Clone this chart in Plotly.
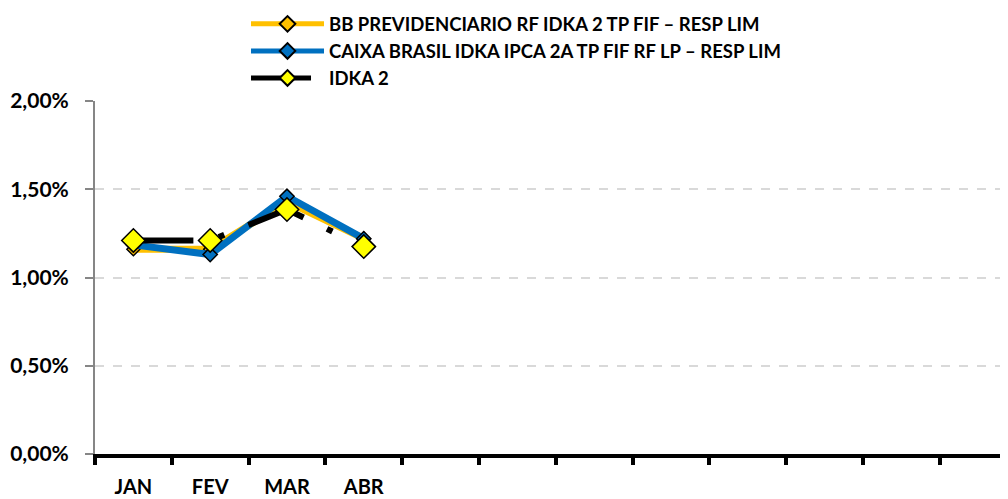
import plotly.graph_objects as go

# months shown on the axis (the rest of the year is still empty)
months = ["JAN", "FEV", "MAR", "ABR"]
n_slots = 12

# monthly returns, in %
bb_prev = [1.16, 1.16, 1.43, 1.22]
caixa_idka = [1.185, 1.13, 1.46, 1.22]
idka2 = [1.21, 1.21, 1.385, 1.175]

names = [
    "BB PREVIDENCIARIO RF IDKA 2 TP FIF – RESP LIM",
    "CAIXA BRASIL IDKA IPCA 2A TP FIF RF LP – RESP LIM",
    "IDKA 2",
]

x = list(range(len(months)))

fig = go.Figure()
fig.add_trace(go.Scatter(
    x=x, y=bb_prev, name=names[0], mode="lines+markers",
    line=dict(color="#FFC000", width=7),
    marker=dict(symbol="diamond", size=10, color="#FFC000",
                line=dict(color="black", width=1.5)),
))
fig.add_trace(go.Scatter(
    x=x, y=caixa_idka, name=names[1], mode="lines+markers",
    line=dict(color="#0070C0", width=7),
    marker=dict(symbol="diamond", size=11, color="#0070C0",
                line=dict(color="black", width=1.5)),
))
fig.add_trace(go.Scatter(
    x=x, y=idka2, name=names[2], mode="lines+markers",
    line=dict(color="black", width=6, dash="60px,26px,6px,26px"),
    marker=dict(symbol="diamond", size=18, color="#FFFF00",
                line=dict(color="black", width=1.5)),
))

# page body adds 8px, so the figure is 8px smaller than the window
fig.update_layout(
    width=1000, height=491,
    margin=dict(l=87, r=0, t=93, b=45, autoexpand=False),
    plot_bgcolor="white", paper_bgcolor="white",
    separators=",.",
    font=dict(family="Lato", size=19, color="black", weight="bold"),
    legend=dict(
        x=0.1654, y=1.271, xanchor="left", yanchor="top",
        font=dict(size=18.5, weight="bold"),
        itemwidth=73, itemsizing="constant", tracegroupgap=0,
        bgcolor="rgba(0,0,0,0)",
    ),
    showlegend=True,
)

fig.update_xaxes(
    range=[-0.5, 11.39],
    tickmode="array", tickvals=x, ticktext=months,
    tickfont=dict(size=20),
    ticks="outside", ticklen=12, tickcolor="rgba(0,0,0,0)",
    tickangle=0,
    showgrid=False, zeroline=False,
    showline=True, linecolor="black", linewidth=4,
    minor=dict(tick0=-0.5, dtick=1, ticks="outside", ticklen=7,
               tickwidth=3.5, tickcolor="black", showgrid=False),
)
fig.update_yaxes(
    range=[0, 2], dtick=0.5, tickformat=".2f", ticksuffix="%",
    tickfont=dict(size=21),
    ticks="outside", ticklen=8, tickcolor="#868686", tickwidth=1.5,
    ticklabelstandoff=12,
    showgrid=True, gridcolor="#D9D9D9", griddash="dash", gridwidth=1.5,
    zeroline=False,
    showline=True, linecolor="#868686", linewidth=2,
)

fig.write_html("out.html")
